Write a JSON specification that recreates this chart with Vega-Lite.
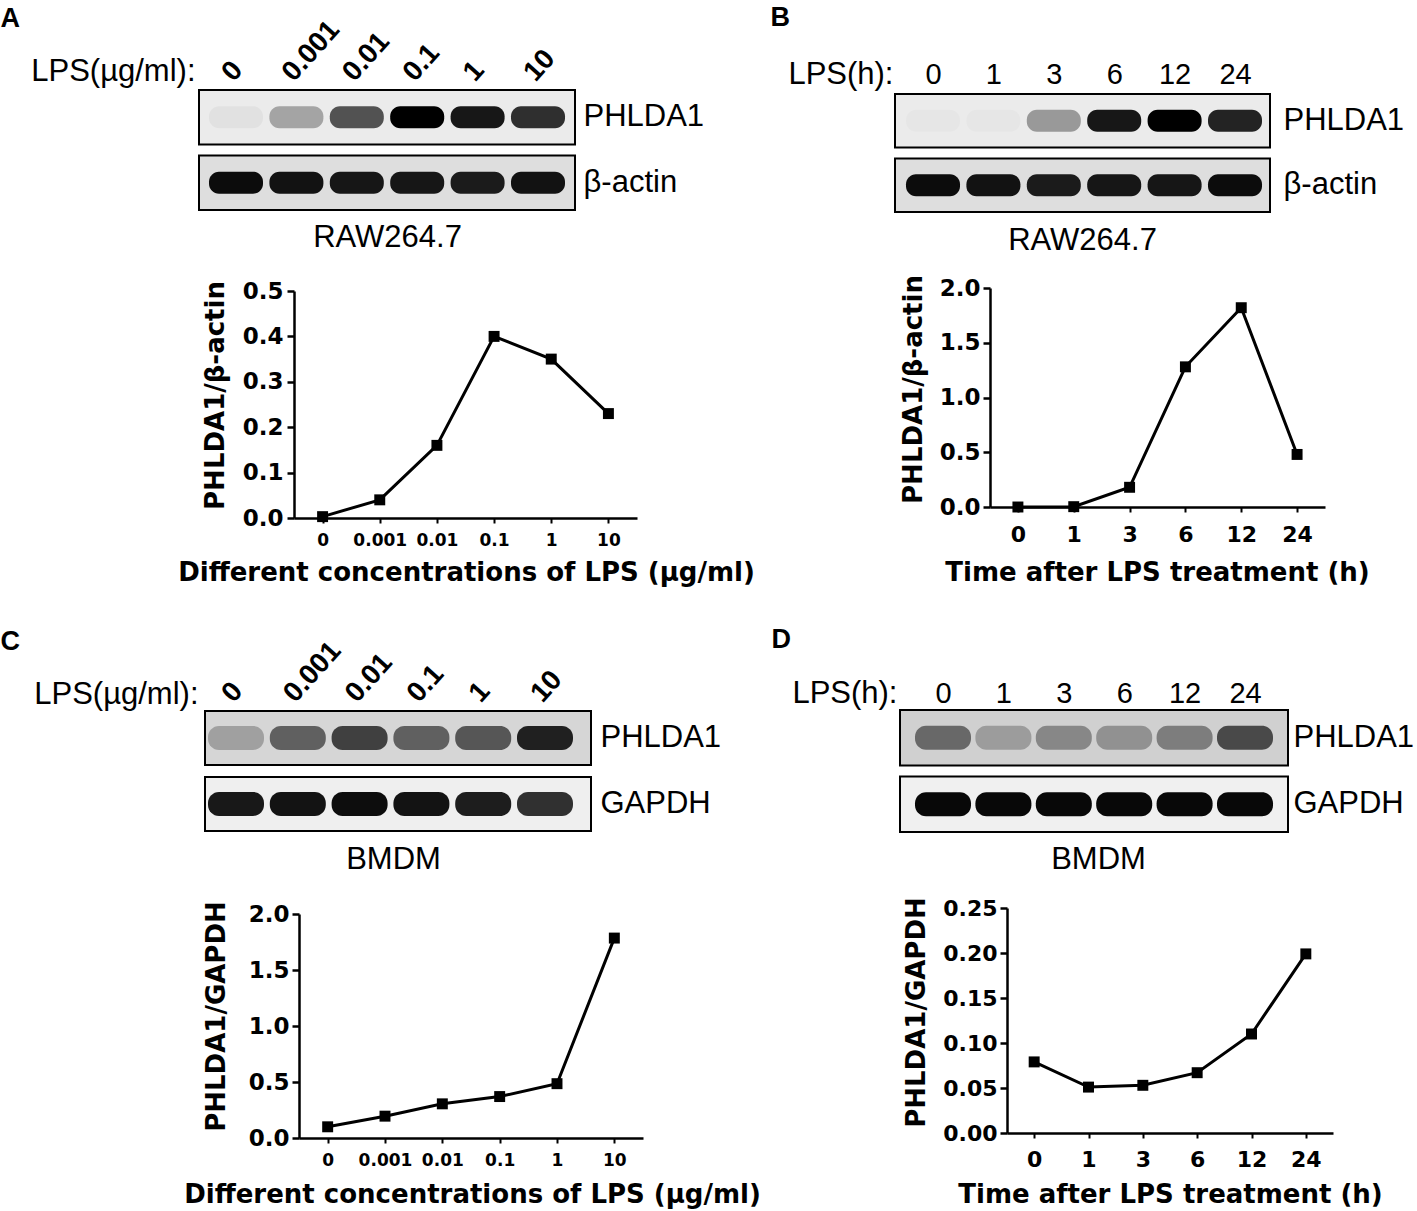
{
  "$schema": "https://vega.github.io/schema/vega-lite/v6.json",
  "width": 1417,
  "height": 1211,
  "autosize": "none",
  "padding": 0,
  "background": "white",
  "datasets": {
    "boxA": [{"protein": "PHLDA1"}, {"protein": "β-actin"}],
    "boxB": [{"protein": "PHLDA1"}, {"protein": "β-actin"}],
    "boxC": [{"protein": "PHLDA1"}, {"protein": "GAPDH"}],
    "boxD": [{"protein": "PHLDA1"}, {"protein": "GAPDH"}],
    "blotA": [
      {"lane": "0", "protein": "PHLDA1", "intensity": 0.04},
      {"lane": "0.001", "protein": "PHLDA1", "intensity": 0.3},
      {"lane": "0.01", "protein": "PHLDA1", "intensity": 0.65},
      {"lane": "0.1", "protein": "PHLDA1", "intensity": 1.0},
      {"lane": "1", "protein": "PHLDA1", "intensity": 0.9},
      {"lane": "10", "protein": "PHLDA1", "intensity": 0.8},
      {"lane": "0", "protein": "β-actin", "intensity": 0.95},
      {"lane": "0.001", "protein": "β-actin", "intensity": 0.92},
      {"lane": "0.01", "protein": "β-actin", "intensity": 0.9},
      {"lane": "0.1", "protein": "β-actin", "intensity": 0.9},
      {"lane": "1", "protein": "β-actin", "intensity": 0.88},
      {"lane": "10", "protein": "β-actin", "intensity": 0.92}
    ],
    "blotB": [
      {"lane": "0", "protein": "PHLDA1", "intensity": 0.02},
      {"lane": "1", "protein": "PHLDA1", "intensity": 0.02},
      {"lane": "3", "protein": "PHLDA1", "intensity": 0.35},
      {"lane": "6", "protein": "PHLDA1", "intensity": 0.9},
      {"lane": "12", "protein": "PHLDA1", "intensity": 1.0},
      {"lane": "24", "protein": "PHLDA1", "intensity": 0.85},
      {"lane": "0", "protein": "β-actin", "intensity": 0.95},
      {"lane": "1", "protein": "β-actin", "intensity": 0.92},
      {"lane": "3", "protein": "β-actin", "intensity": 0.88},
      {"lane": "6", "protein": "β-actin", "intensity": 0.9},
      {"lane": "12", "protein": "β-actin", "intensity": 0.9},
      {"lane": "24", "protein": "β-actin", "intensity": 0.95}
    ],
    "blotC": [
      {"lane": "0", "protein": "PHLDA1", "intensity": 0.25},
      {"lane": "0.001", "protein": "PHLDA1", "intensity": 0.55},
      {"lane": "0.01", "protein": "PHLDA1", "intensity": 0.7},
      {"lane": "0.1", "protein": "PHLDA1", "intensity": 0.55},
      {"lane": "1", "protein": "PHLDA1", "intensity": 0.6},
      {"lane": "10", "protein": "PHLDA1", "intensity": 0.85},
      {"lane": "0", "protein": "GAPDH", "intensity": 0.9},
      {"lane": "0.001", "protein": "GAPDH", "intensity": 0.92},
      {"lane": "0.01", "protein": "GAPDH", "intensity": 0.95},
      {"lane": "0.1", "protein": "GAPDH", "intensity": 0.92},
      {"lane": "1", "protein": "GAPDH", "intensity": 0.88},
      {"lane": "10", "protein": "GAPDH", "intensity": 0.8}
    ],
    "blotD": [
      {"lane": "0", "protein": "PHLDA1", "intensity": 0.5},
      {"lane": "1", "protein": "PHLDA1", "intensity": 0.25},
      {"lane": "3", "protein": "PHLDA1", "intensity": 0.35},
      {"lane": "6", "protein": "PHLDA1", "intensity": 0.3},
      {"lane": "12", "protein": "PHLDA1", "intensity": 0.4},
      {"lane": "24", "protein": "PHLDA1", "intensity": 0.65},
      {"lane": "0", "protein": "GAPDH", "intensity": 0.97},
      {"lane": "1", "protein": "GAPDH", "intensity": 0.97},
      {"lane": "3", "protein": "GAPDH", "intensity": 0.97},
      {"lane": "6", "protein": "GAPDH", "intensity": 0.97},
      {"lane": "12", "protein": "GAPDH", "intensity": 0.97},
      {"lane": "24", "protein": "GAPDH", "intensity": 0.97}
    ],
    "quantA": [
      {"lane": "0", "ratio": 0.003},
      {"lane": "0.001", "ratio": 0.04},
      {"lane": "0.01", "ratio": 0.16},
      {"lane": "0.1", "ratio": 0.4},
      {"lane": "1", "ratio": 0.35},
      {"lane": "10", "ratio": 0.23}
    ],
    "quantB": [
      {"lane": "0", "ratio": 0.0},
      {"lane": "1", "ratio": 0.003},
      {"lane": "3", "ratio": 0.18},
      {"lane": "6", "ratio": 1.28},
      {"lane": "12", "ratio": 1.82},
      {"lane": "24", "ratio": 0.48}
    ],
    "quantC": [
      {"lane": "0", "ratio": 0.1},
      {"lane": "0.001", "ratio": 0.195},
      {"lane": "0.01", "ratio": 0.305},
      {"lane": "0.1", "ratio": 0.37},
      {"lane": "1", "ratio": 0.485},
      {"lane": "10", "ratio": 1.785}
    ],
    "quantD": [
      {"lane": "0", "ratio": 0.079},
      {"lane": "1", "ratio": 0.051},
      {"lane": "3", "ratio": 0.053},
      {"lane": "6", "ratio": 0.067},
      {"lane": "12", "ratio": 0.11},
      {"lane": "24", "ratio": 0.199}
    ]
  },
  "layer": [
    {
      "data": {"name": "boxA"},
      "mark": {"type": "rect", "stroke": "black", "strokeWidth": 2},
      "encoding": {
        "x": {"datum": 0, "type": "quantitative",
          "scale": {"domain": [0, 1], "range": [199, 575], "nice": false, "zero": false},
          "axis": {"orient": "bottom", "offset": -1001, "labels": false, "ticks": false, "domain": false,
            "title": "RAW264.7", "titleX": 387, "titleY": 36, "titleAlign": "center", "titleBaseline": "alphabetic",
            "titleFont": "Liberation Sans", "titleFontSize": 31, "titleFontWeight": "normal"}},
        "x2": {"datum": 1},
        "y": {"field": "protein", "type": "nominal",
          "scale": {"domain": ["PHLDA1", "β-actin"], "range": [90, 210], "paddingInner": 0.168, "paddingOuter": 0},
          "axis": {"orient": "right", "offset": -834, "title": null, "ticks": false, "domain": false, "labelPadding": 0,
            "labelFont": "Liberation Sans", "labelFontSize": 31, "labelAlign": "left", "labelBaseline": "middle"}},
        "fill": {"field": "protein", "type": "nominal",
          "scale": {"domain": ["PHLDA1", "β-actin"], "range": ["#ebebeb", "#dedede"]}, "legend": null}
      }
    },
    {
      "data": {"name": "blotA"},
      "mark": {"type": "rect", "width": 54, "height": 22, "cornerRadius": 10, "fill": "black"},
      "encoding": {
        "x": {"field": "lane", "type": "ordinal",
          "scale": {"type": "point", "domain": ["0", "0.001", "0.01", "0.1", "1", "10"], "range": [236, 538], "padding": 0},
          "axis": {"orient": "top", "offset": -90, "ticks": false, "tickSize": 0, "domain": false,
            "labelAngle": -48, "labelAlign": "left", "labelBaseline": "middle", "labelPadding": 13, "labelOffset": -9,
            "labelFont": "Liberation Sans", "labelFontWeight": "bold", "labelFontSize": 28,
            "title": "LPS(µg/ml):", "titleX": 195, "titleY": -10, "titleAlign": "right", "titleBaseline": "alphabetic",
            "titleAngle": 0, "titleFont": "Liberation Sans", "titleFontSize": 31, "titleFontWeight": "normal"}},
        "y": {"field": "protein", "type": "nominal",
          "scale": {"domain": ["PHLDA1", "β-actin"], "range": [90, 210], "paddingInner": 0.168, "paddingOuter": 0},
          "axis": {"orient": "left", "offset": 0, "labels": false, "ticks": false, "domain": false,
            "title": "A", "titleX": 0, "titleY": 26, "titleAngle": 0, "titleAlign": "left", "titleBaseline": "alphabetic",
            "titleFont": "Liberation Sans", "titleFontSize": 27, "titleFontWeight": "bold"}},
        "opacity": {"field": "intensity", "type": "quantitative", "scale": {"domain": [0, 1], "range": [0, 1]}, "legend": null}
      }
    },
    {
      "data": {"name": "quantA"},
      "mark": {"type": "line", "color": "black", "strokeWidth": 3,
        "point": {"shape": "square", "size": 120, "filled": true, "color": "black", "opacity": 1}},
      "encoding": {
        "x": {"field": "lane", "type": "ordinal",
          "scale": {"type": "point", "domain": ["0", "0.001", "0.01", "0.1", "1", "10"], "range": [294, 637], "padding": 0.5},
          "axis": {"orient": "bottom", "offset": -693, "labelAngle": 0, "domainWidth": 2.5, "tickWidth": 2, "tickSize": 5,
            "labelPadding": 9, "labelFont": "DejaVu Sans", "labelFontWeight": "bold", "labelFontSize": 17,
            "title": "Different concentrations of LPS (µg/ml)", "titleX": 466, "titleY": 62, "titleAlign": "center",
            "titleBaseline": "alphabetic", "titleFont": "DejaVu Sans", "titleFontSize": 26, "titleFontWeight": "bold"}},
        "y": {"field": "ratio", "type": "quantitative",
          "scale": {"domain": [0, 0.5], "range": [518, 291], "nice": false},
          "axis": {"orient": "left", "offset": -294, "values": [0, 0.1, 0.2, 0.3, 0.4, 0.5], "format": ".1f",
            "domainWidth": 2.5, "tickWidth": 2.5, "tickSize": 7, "labelPadding": 4,
            "labelFont": "DejaVu Sans", "labelFontWeight": "bold", "labelFontSize": 23,
            "title": "PHLDA1/β-actin", "titleX": -79, "titleY": 395, "titleAngle": -90, "titleAlign": "center",
            "titleBaseline": "middle", "titleFont": "DejaVu Sans", "titleFontSize": 26, "titleFontWeight": "bold"}}
      }
    },
    {
      "data": {"name": "boxB"},
      "mark": {"type": "rect", "stroke": "black", "strokeWidth": 2},
      "encoding": {
        "x": {"datum": 0, "type": "quantitative",
          "scale": {"domain": [0, 1], "range": [895, 1270], "nice": false, "zero": false},
          "axis": {"orient": "bottom", "offset": -999, "labels": false, "ticks": false, "domain": false,
            "title": "RAW264.7", "titleX": 1082, "titleY": 37, "titleAlign": "center", "titleBaseline": "alphabetic",
            "titleFont": "Liberation Sans", "titleFontSize": 31, "titleFontWeight": "normal"}},
        "x2": {"datum": 1},
        "y": {"field": "protein", "type": "nominal",
          "scale": {"domain": ["PHLDA1", "β-actin"], "range": [94, 212], "paddingInner": 0.17, "paddingOuter": 0},
          "axis": {"orient": "right", "offset": -134, "title": null, "ticks": false, "domain": false, "labelPadding": 0,
            "labelFont": "Liberation Sans", "labelFontSize": 31, "labelAlign": "left", "labelBaseline": "middle"}},
        "fill": {"field": "protein", "type": "nominal",
          "scale": {"domain": ["PHLDA1", "β-actin"], "range": ["#ebebeb", "#dedede"]}, "legend": null}
      }
    },
    {
      "data": {"name": "blotB"},
      "mark": {"type": "rect", "width": 54, "height": 22, "cornerRadius": 10, "fill": "black"},
      "encoding": {
        "x": {"field": "lane", "type": "ordinal",
          "scale": {"type": "point", "domain": ["0", "1", "3", "6", "12", "24"], "range": [933, 1235], "padding": 0},
          "axis": {"orient": "top", "offset": -94, "ticks": false, "tickSize": 0, "domain": false,
            "labelAngle": 0, "labelAlign": "center", "labelBaseline": "alphabetic", "labelPadding": 11,
            "labelFont": "Liberation Sans", "labelFontSize": 29,
            "title": "LPS(h):", "titleX": 893, "titleY": -11, "titleAlign": "right", "titleBaseline": "alphabetic",
            "titleAngle": 0, "titleFont": "Liberation Sans", "titleFontSize": 31, "titleFontWeight": "normal"}},
        "y": {"field": "protein", "type": "nominal",
          "scale": {"domain": ["PHLDA1", "β-actin"], "range": [94, 212], "paddingInner": 0.17, "paddingOuter": 0},
          "axis": {"orient": "left", "offset": -770, "labels": false, "ticks": false, "domain": false,
            "title": "B", "titleX": 0, "titleY": 25, "titleAngle": 0, "titleAlign": "left", "titleBaseline": "alphabetic",
            "titleFont": "Liberation Sans", "titleFontSize": 27, "titleFontWeight": "bold"}},
        "opacity": {"field": "intensity", "type": "quantitative", "scale": {"domain": [0, 1], "range": [0, 1]}, "legend": null}
      }
    },
    {
      "data": {"name": "quantB"},
      "mark": {"type": "line", "color": "black", "strokeWidth": 3,
        "point": {"shape": "square", "size": 120, "filled": true, "color": "black", "opacity": 1}},
      "encoding": {
        "x": {"field": "lane", "type": "ordinal",
          "scale": {"type": "point", "domain": ["0", "1", "3", "6", "12", "24"], "range": [990, 1325], "padding": 0.5},
          "axis": {"orient": "bottom", "offset": -704, "labelAngle": 0, "domainWidth": 2.5, "tickWidth": 2, "tickSize": 5,
            "labelPadding": 12, "labelFont": "DejaVu Sans", "labelFontWeight": "bold", "labelFontSize": 22,
            "title": "Time after LPS treatment (h)", "titleX": 1157, "titleY": 73, "titleAlign": "center",
            "titleBaseline": "alphabetic", "titleFont": "DejaVu Sans", "titleFontSize": 26, "titleFontWeight": "bold"}},
        "y": {"field": "ratio", "type": "quantitative",
          "scale": {"domain": [0, 2], "range": [507, 288], "nice": false},
          "axis": {"orient": "left", "offset": -990, "values": [0, 0.5, 1, 1.5, 2], "format": ".1f",
            "domainWidth": 2.5, "tickWidth": 2.5, "tickSize": 7, "labelPadding": 3,
            "labelFont": "DejaVu Sans", "labelFontWeight": "bold", "labelFontSize": 23,
            "title": "PHLDA1/β-actin", "titleX": -77, "titleY": 389, "titleAngle": -90, "titleAlign": "center",
            "titleBaseline": "middle", "titleFont": "DejaVu Sans", "titleFontSize": 26, "titleFontWeight": "bold"}}
      }
    },
    {
      "data": {"name": "boxC"},
      "mark": {"type": "rect", "stroke": "black", "strokeWidth": 2},
      "encoding": {
        "x": {"datum": 0, "type": "quantitative",
          "scale": {"domain": [0, 1], "range": [205, 591], "nice": false, "zero": false},
          "axis": {"orient": "bottom", "offset": -380, "labels": false, "ticks": false, "domain": false,
            "title": "BMDM", "titleX": 393, "titleY": 37, "titleAlign": "center", "titleBaseline": "alphabetic",
            "titleFont": "Liberation Sans", "titleFontSize": 31, "titleFontWeight": "normal"}},
        "x2": {"datum": 1},
        "y": {"field": "protein", "type": "nominal",
          "scale": {"domain": ["PHLDA1", "GAPDH"], "range": [711, 831], "paddingInner": 0.18, "paddingOuter": 0},
          "axis": {"orient": "right", "offset": -817, "title": null, "ticks": false, "domain": false, "labelPadding": 0,
            "labelFont": "Liberation Sans", "labelFontSize": 31, "labelAlign": "left", "labelBaseline": "middle"}},
        "fill": {"field": "protein", "type": "nominal",
          "scale": {"domain": ["PHLDA1", "GAPDH"], "range": ["#d6d6d6", "#efefef"]}, "legend": null}
      }
    },
    {
      "data": {"name": "blotC"},
      "mark": {"type": "rect", "width": 56, "height": 24, "cornerRadius": 11, "fill": "black"},
      "encoding": {
        "x": {"field": "lane", "type": "ordinal",
          "scale": {"type": "point", "domain": ["0", "0.001", "0.01", "0.1", "1", "10"], "range": [236, 545], "padding": 0},
          "axis": {"orient": "top", "offset": -711, "ticks": false, "tickSize": 0, "domain": false,
            "labelAngle": -48, "labelAlign": "left", "labelBaseline": "middle", "labelPadding": 13, "labelOffset": -9,
            "labelFont": "Liberation Sans", "labelFontWeight": "bold", "labelFontSize": 28,
            "title": "LPS(µg/ml):", "titleX": 198, "titleY": -8, "titleAlign": "right", "titleBaseline": "alphabetic",
            "titleAngle": 0, "titleFont": "Liberation Sans", "titleFontSize": 31, "titleFontWeight": "normal"}},
        "y": {"field": "protein", "type": "nominal",
          "scale": {"domain": ["PHLDA1", "GAPDH"], "range": [711, 831], "paddingInner": 0.18, "paddingOuter": 0},
          "axis": {"orient": "left", "offset": 0, "labels": false, "ticks": false, "domain": false,
            "title": "C", "titleX": 0, "titleY": 649, "titleAngle": 0, "titleAlign": "left", "titleBaseline": "alphabetic",
            "titleFont": "Liberation Sans", "titleFontSize": 27, "titleFontWeight": "bold"}},
        "opacity": {"field": "intensity", "type": "quantitative", "scale": {"domain": [0, 1], "range": [0, 1]}, "legend": null}
      }
    },
    {
      "data": {"name": "quantC"},
      "mark": {"type": "line", "color": "black", "strokeWidth": 3,
        "point": {"shape": "square", "size": 120, "filled": true, "color": "black", "opacity": 1}},
      "encoding": {
        "x": {"field": "lane", "type": "ordinal",
          "scale": {"type": "point", "domain": ["0", "0.001", "0.01", "0.1", "1", "10"], "range": [299, 643], "padding": 0.5},
          "axis": {"orient": "bottom", "offset": -73, "labelAngle": 0, "domainWidth": 2.5, "tickWidth": 2, "tickSize": 5,
            "labelPadding": 9, "labelFont": "DejaVu Sans", "labelFontWeight": "bold", "labelFontSize": 17,
            "title": "Different concentrations of LPS (µg/ml)", "titleX": 472, "titleY": 64, "titleAlign": "center",
            "titleBaseline": "alphabetic", "titleFont": "DejaVu Sans", "titleFontSize": 26, "titleFontWeight": "bold"}},
        "y": {"field": "ratio", "type": "quantitative",
          "scale": {"domain": [0, 2], "range": [1138, 914], "nice": false},
          "axis": {"orient": "left", "offset": -299, "values": [0, 0.5, 1, 1.5, 2], "format": ".1f",
            "domainWidth": 2.5, "tickWidth": 2.5, "tickSize": 7, "labelPadding": 3,
            "labelFont": "DejaVu Sans", "labelFontWeight": "bold", "labelFontSize": 23,
            "title": "PHLDA1/GAPDH", "titleX": -83, "titleY": 1016, "titleAngle": -90, "titleAlign": "center",
            "titleBaseline": "middle", "titleFont": "DejaVu Sans", "titleFontSize": 26, "titleFontWeight": "bold"}}
      }
    },
    {
      "data": {"name": "boxD"},
      "mark": {"type": "rect", "stroke": "black", "strokeWidth": 2},
      "encoding": {
        "x": {"datum": 0, "type": "quantitative",
          "scale": {"domain": [0, 1], "range": [900, 1288], "nice": false, "zero": false},
          "axis": {"orient": "bottom", "offset": -379, "labels": false, "ticks": false, "domain": false,
            "title": "BMDM", "titleX": 1098, "titleY": 36, "titleAlign": "center", "titleBaseline": "alphabetic",
            "titleFont": "Liberation Sans", "titleFontSize": 31, "titleFontWeight": "normal"}},
        "x2": {"datum": 1},
        "y": {"field": "protein", "type": "nominal",
          "scale": {"domain": ["PHLDA1", "GAPDH"], "range": [710, 832], "paddingInner": 0.165, "paddingOuter": 0},
          "axis": {"orient": "right", "offset": -124, "title": null, "ticks": false, "domain": false, "labelPadding": 0,
            "labelFont": "Liberation Sans", "labelFontSize": 31, "labelAlign": "left", "labelBaseline": "middle"}},
        "fill": {"field": "protein", "type": "nominal",
          "scale": {"domain": ["PHLDA1", "GAPDH"], "range": ["#d0d0d0", "#f0f0f0"]}, "legend": null}
      }
    },
    {
      "data": {"name": "blotD"},
      "mark": {"type": "rect", "width": 56, "height": 24, "cornerRadius": 11, "fill": "black"},
      "encoding": {
        "x": {"field": "lane", "type": "ordinal",
          "scale": {"type": "point", "domain": ["0", "1", "3", "6", "12", "24"], "range": [943, 1245], "padding": 0},
          "axis": {"orient": "top", "offset": -710, "ticks": false, "tickSize": 0, "domain": false,
            "labelAngle": 0, "labelAlign": "center", "labelBaseline": "alphabetic", "labelPadding": 8,
            "labelFont": "Liberation Sans", "labelFontSize": 29,
            "title": "LPS(h):", "titleX": 897, "titleY": -8, "titleAlign": "right", "titleBaseline": "alphabetic",
            "titleAngle": 0, "titleFont": "Liberation Sans", "titleFontSize": 31, "titleFontWeight": "normal"}},
        "y": {"field": "protein", "type": "nominal",
          "scale": {"domain": ["PHLDA1", "GAPDH"], "range": [710, 832], "paddingInner": 0.165, "paddingOuter": 0},
          "axis": {"orient": "left", "offset": -771, "labels": false, "ticks": false, "domain": false,
            "title": "D", "titleX": 0, "titleY": 647, "titleAngle": 0, "titleAlign": "left", "titleBaseline": "alphabetic",
            "titleFont": "Liberation Sans", "titleFontSize": 27, "titleFontWeight": "bold"}},
        "opacity": {"field": "intensity", "type": "quantitative", "scale": {"domain": [0, 1], "range": [0, 1]}, "legend": null}
      }
    },
    {
      "data": {"name": "quantD"},
      "mark": {"type": "line", "color": "black", "strokeWidth": 3,
        "point": {"shape": "square", "size": 120, "filled": true, "color": "black", "opacity": 1}},
      "encoding": {
        "x": {"field": "lane", "type": "ordinal",
          "scale": {"type": "point", "domain": ["0", "1", "3", "6", "12", "24"], "range": [1007, 1333], "padding": 0.5},
          "axis": {"orient": "bottom", "offset": -78, "labelAngle": 0, "domainWidth": 2.5, "tickWidth": 2, "tickSize": 5,
            "labelPadding": 11, "labelFont": "DejaVu Sans", "labelFontWeight": "bold", "labelFontSize": 22,
            "title": "Time after LPS treatment (h)", "titleX": 1170, "titleY": 69, "titleAlign": "center",
            "titleBaseline": "alphabetic", "titleFont": "DejaVu Sans", "titleFontSize": 26, "titleFontWeight": "bold"}},
        "y": {"field": "ratio", "type": "quantitative",
          "scale": {"domain": [0, 0.25], "range": [1133, 908], "nice": false},
          "axis": {"orient": "left", "offset": -1007, "values": [0, 0.05, 0.1, 0.15, 0.2, 0.25], "format": ".2f",
            "domainWidth": 2.5, "tickWidth": 2.5, "tickSize": 7, "labelPadding": 3,
            "labelFont": "DejaVu Sans", "labelFontWeight": "bold", "labelFontSize": 22,
            "title": "PHLDA1/GAPDH", "titleX": -91, "titleY": 1012, "titleAngle": -90, "titleAlign": "center",
            "titleBaseline": "middle", "titleFont": "DejaVu Sans", "titleFontSize": 26, "titleFontWeight": "bold"}}
      }
    }
  ],
  "resolve": {
    "scale": {"x": "independent", "y": "independent", "fill": "independent", "opacity": "independent"},
    "axis": {"x": "independent", "y": "independent"}
  },
  "config": {
    "view": {"stroke": null},
    "axis": {"grid": false, "domainColor": "black", "tickColor": "black", "labelColor": "black", "titleColor": "black"}
  }
}
